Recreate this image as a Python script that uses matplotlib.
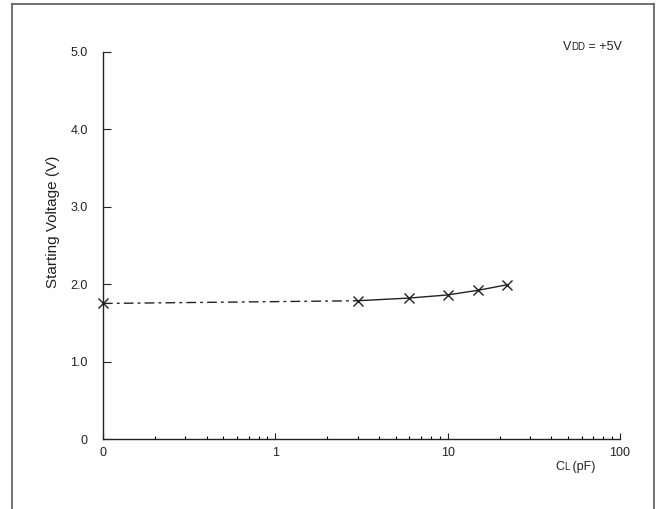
import matplotlib
matplotlib.use('Agg')
import matplotlib.pyplot as plt
from matplotlib.lines import Line2D
from matplotlib.ticker import FixedLocator, NullFormatter

plt.rcParams['font.family'] = ['Liberation Sans', 'DejaVu Sans']

# load capacitance (pF); 0.1 is the "0" point at the left end of the log axis
cl_dash = [0.1, 3]
v_dash = [1.75, 1.785]
cl_solid = [3, 6, 10, 15, 22]
v_solid = [1.785, 1.82, 1.86, 1.92, 1.99]

x_ticks = [0.1, 1, 10, 100]
x_labels = ['0', '1', '10', '100']
y_ticks = [0, 1, 2, 3, 4, 5]
y_labels = ['0', '1.0', '2.0', '3.0', '4.0', '5.0']

ink = '#222222'

fig = plt.figure(figsize=(6.6, 5.09), dpi=100)
ax = fig.add_axes([0.156, 0.1375, 0.9394 - 0.156, 0.8984 - 0.1375])

ax.plot(cl_dash, v_dash, color=ink, lw=1.0, linestyle=(0, (7, 3, 2, 3)))
ax.plot(cl_solid, v_solid, color=ink, lw=1.0)
ax.plot(cl_dash[:1] + cl_solid, v_dash[:1] + v_solid, linestyle='none',
        marker='x', markersize=7, markeredgewidth=1.0, color=ink, clip_on=False)

ax.set_xscale('log')
ax.set_xlim(0.1, 100)
ax.set_ylim(0, 5)

ax.xaxis.set_major_locator(FixedLocator(x_ticks))
ax.set_xticklabels(x_labels)
minor = [m * d for d in [0.1, 1, 10] for m in range(2, 10)]
ax.xaxis.set_minor_locator(FixedLocator(minor))
ax.xaxis.set_minor_formatter(NullFormatter())
ax.set_yticks(y_ticks)
ax.set_yticklabels(y_labels)

ax.tick_params(axis='x', which='major', direction='in', length=4, width=0.8,
               pad=6, labelsize=9, colors=ink)
ax.tick_params(axis='x', which='minor', direction='in', length=2.5, width=0.8)
ax.tick_params(axis='y', direction='in', length=6, width=0.8, pad=11,
               labelsize=9, colors=ink)

for s in ['top', 'right']:
    ax.spines[s].set_visible(False)
for s in ['left', 'bottom']:
    ax.spines[s].set_linewidth(1.0)
    ax.spines[s].set_color(ink)

ax.set_ylabel('Starting Voltage (V)', fontsize=11, color=ink)
ax.yaxis.set_label_coords(-0.083, 0.56)

fig.canvas.draw()
r = fig.canvas.get_renderer()
inv = fig.transFigure.inverted()


def run_text(x, y, parts):
    # draw text pieces one after another on the same baseline
    for s, size in parts:
        t = fig.text(x, y, s, fontsize=size, color=ink, va='baseline')
        fig.canvas.draw()
        x = inv.transform((t.get_window_extent(r).x1, 0))[0]


run_text(555 / 660, 1 - 470 / 509, [('C', 9), ('L', 7), (' (pF)', 9)])
run_text(563 / 660, 1 - 50 / 509, [('V', 9), ('DD', 7), (' = +5V', 9)])

# page frame
frame = '#666666'
fl, fr, ft = 12 / 660, 653.5 / 660, 1 - 3.5 / 509
fig.add_artist(Line2D([fl, fl], [0, ft], transform=fig.transFigure, color=frame, lw=1.3))
fig.add_artist(Line2D([fl, fr], [ft, ft], transform=fig.transFigure, color=frame, lw=1.3))
fig.add_artist(Line2D([fr, fr], [ft, 0], transform=fig.transFigure, color=frame, lw=1.3))

fig.savefig('out.png', dpi=100)
